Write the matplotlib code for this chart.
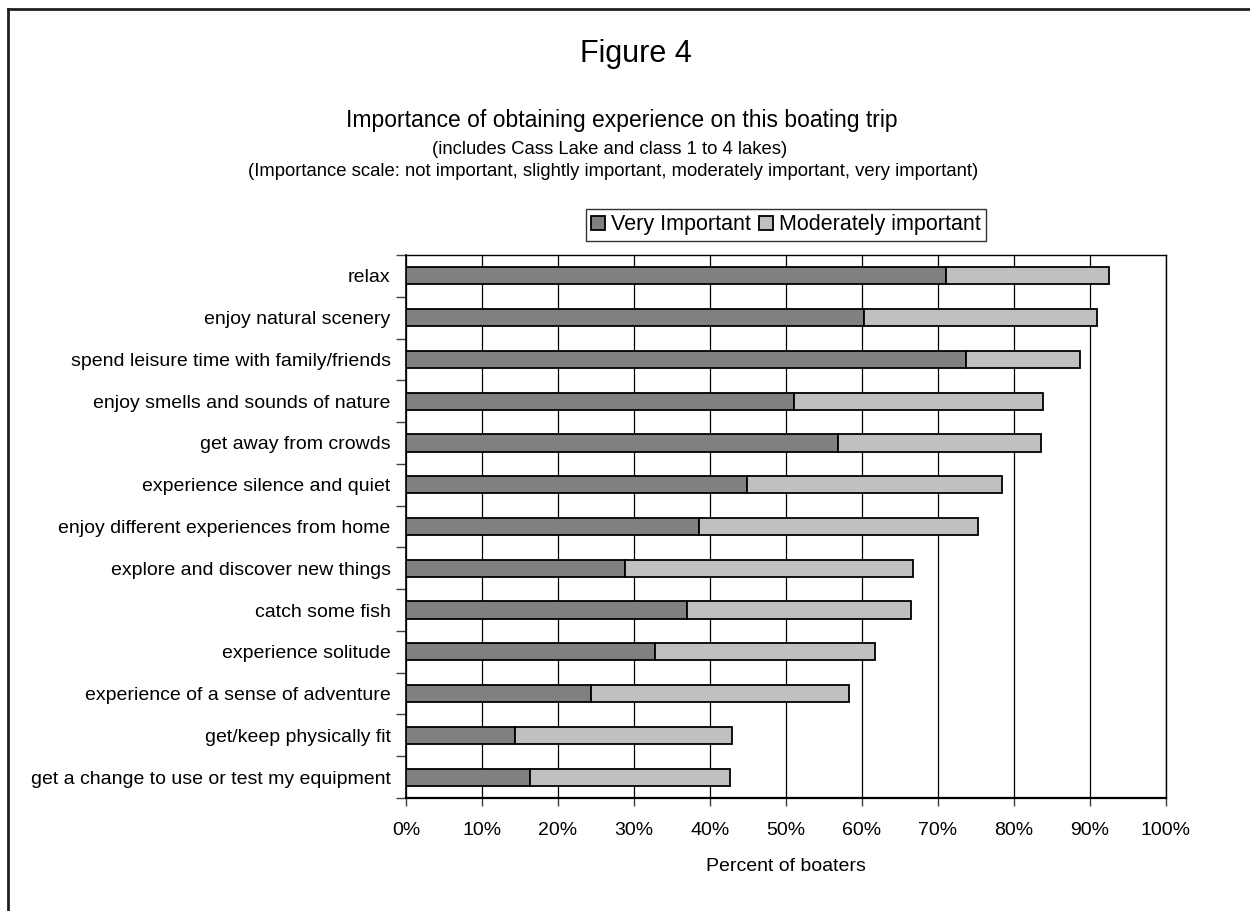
import matplotlib
matplotlib.use("Agg")
import matplotlib.pyplot as plt
from matplotlib.lines import Line2D
import numpy as np

plt.rcParams['font.family'] = ['Liberation Sans', 'DejaVu Sans']

categories = [
    "relax",
    "enjoy natural scenery",
    "spend leisure time with family/friends",
    "enjoy smells and sounds of nature",
    "get away from crowds",
    "experience silence and quiet",
    "enjoy different experiences from home",
    "explore and discover new things",
    "catch some fish",
    "experience solitude",
    "experience of a sense of adventure",
    "get/keep physically fit",
    "get a change to use or test my equipment",
]
very_important = [71.1, 60.3, 73.7, 51.1, 56.8, 44.9, 38.5, 28.8, 37.0, 32.7, 24.4, 14.4, 16.3]
moderately_important = [21.4, 30.6, 15.0, 32.7, 26.7, 33.5, 36.8, 37.9, 29.4, 29.0, 33.9, 28.5, 26.3]
xticks = [0, 10, 20, 30, 40, 50, 60, 70, 80, 90, 100]
xtick_labels = [f"{t}%" for t in xticks]

W, H = 1250, 911
fig = plt.figure(figsize=(W / 100, H / 100), dpi=100)
ax = fig.add_axes([406 / W, 1 - 798 / H, (1166 - 406) / W, (798 - 255) / H])

n = len(categories)
y = np.arange(n)
bh = 0.41
ax.barh(y, very_important, height=bh, color="#808080", edgecolor="black", linewidth=1.3,
        label="Very Important", zorder=3)
ax.barh(y, moderately_important, left=very_important, height=bh, color="#C0C0C0",
        edgecolor="black", linewidth=1.3, label="Moderately important", zorder=3)

ax.set_xlim(0, 100)
ax.set_ylim(n - 0.5, -0.5)
ax.set_xticks(xticks)
ax.set_xticklabels(xtick_labels, fontsize=14)
ax.set_yticks(y)
ax.set_yticklabels(categories, fontsize=14)
ax.tick_params(axis='y', which='major', length=0, pad=11)
ax.set_yticks(np.arange(n + 1) - 0.5, minor=True)
ax.tick_params(axis='y', which='minor', length=7, width=1, color='#404040', direction='out')
ax.tick_params(axis='x', length=6, width=1, color='#404040', direction='out', pad=11)
ax.grid(axis='x', color='black', linewidth=0.9, zorder=0)
for s in ax.spines.values():
    s.set_color('black')
    s.set_linewidth(1.0)
ax.spines['bottom'].set_linewidth(1.6)
ax.spines['left'].set_linewidth(1.2)
ax.set_xlabel("Percent of boaters", fontsize=14, labelpad=14)

leg = ax.legend(loc='upper left', bbox_to_anchor=(586 / W, 1 - 209 / H),
                bbox_transform=fig.transFigure, ncol=2, fontsize=15.5,
                frameon=True, fancybox=False, borderaxespad=0,
                handlelength=0.65, handleheight=0.65, handletextpad=0.25,
                columnspacing=0.4, borderpad=0.25)
leg.get_frame().set_edgecolor('black')
leg.get_frame().set_linewidth(1.0)

fig.text(636 / W, 1 - 62 / H, "Figure 4", ha='center', va='baseline', fontsize=22)
fig.text(622 / W, 1 - 127 / H, "Importance of obtaining experience on this boating trip",
         ha='center', va='baseline', fontsize=16.5)
fig.text(610 / W, 1 - 154 / H, "(includes Cass Lake and class 1 to 4 lakes)",
         ha='center', va='baseline', fontsize=13.3)
fig.text(613.5 / W, 1 - 176 / H,
         "(Importance scale: not important, slightly important, moderately important, very important)",
         ha='center', va='baseline', fontsize=13.3)

fig.add_artist(Line2D([8 / W, 8 / W], [0, 1 - 9 / H], transform=fig.transFigure,
                      color='#202020', linewidth=2))
fig.add_artist(Line2D([8 / W, 1], [1 - 9 / H, 1 - 9 / H], transform=fig.transFigure,
                      color='#202020', linewidth=2))

fig.savefig("out.png", dpi=100)
